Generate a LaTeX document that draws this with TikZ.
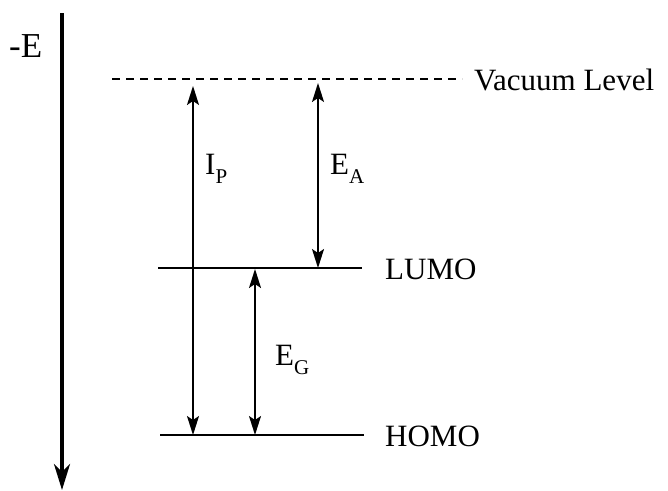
\documentclass[tikz,border=0pt]{standalone}
\usepackage{fontspec}
\setmainfont{Liberation Serif}
\usetikzlibrary{arrows.meta}
\newcommand{\sbs}[1]{\raisebox{-0.32em}{\fontsize{21}{21}\selectfont #1}}
\tikzset{
  lbl/.style={font=\fontsize{31}{31}\selectfont, inner sep=0pt},
  level/.style={line width=1.8pt},
  gap/.style={line width=1.8pt, {Stealth[length=19pt,width=12pt,inset=4pt]}-{Stealth[length=19pt,width=12pt,inset=4pt]}},
  axis/.style={line width=3.5pt, -{Stealth[length=26pt,width=16pt,inset=8pt]}}
}
\begin{document}
\begin{tikzpicture}[x=1pt,y=-1pt]
\useasboundingbox (0,0) rectangle (668,490);
% energy axis
\coordinate (axtop) at (62,13);
\coordinate (axbot) at (62,490);
\draw[axis] (axtop) -- (axbot);
\node[lbl, font=\fontsize{35}{35}\selectfont, anchor=west] (elab) at (9,46) {-E};
% vacuum level
\coordinate (vacL) at (112,79);
\coordinate (vacR) at (462,79);
\draw[level, line width=1.5pt, dash pattern=on 8pt off 6pt] (vacL) -- (vacR);
\node[lbl, anchor=west] (vaclab) at (474,80) {Vacuum Level};
% LUMO and HOMO
\coordinate (lumoL) at (158,268);
\coordinate (lumoR) at (362,268);
\coordinate (homoL) at (160,435);
\coordinate (homoR) at (364,435);
\draw[level] (lumoL) -- (lumoR);
\draw[level] (homoL) -- (homoR);
\node[lbl, anchor=west] (lumolab) at (385,269) {LUMO};
\node[lbl, anchor=west] (homolab) at (385,436) {HOMO};
% gap arrows
\coordinate (ipT) at (193,86);
\coordinate (ipB) at (193,435);
\coordinate (eaT) at (318,83);
\coordinate (eaB) at (318,268);
\coordinate (egT) at (255,269);
\coordinate (egB) at (255,435);
\draw[gap] (ipT) -- (ipB);
\draw[gap] (eaT) -- (eaB);
\draw[gap] (egT) -- (egB);
\node[lbl, anchor=base west] (iplab) at (205,174) {I\sbs{P}};
\node[lbl, anchor=base west] (ealab) at (330,174) {E\sbs{A}};
\node[lbl, anchor=base west] (eglab) at (275,365) {E\sbs{G}};
\end{tikzpicture}
\end{document}
